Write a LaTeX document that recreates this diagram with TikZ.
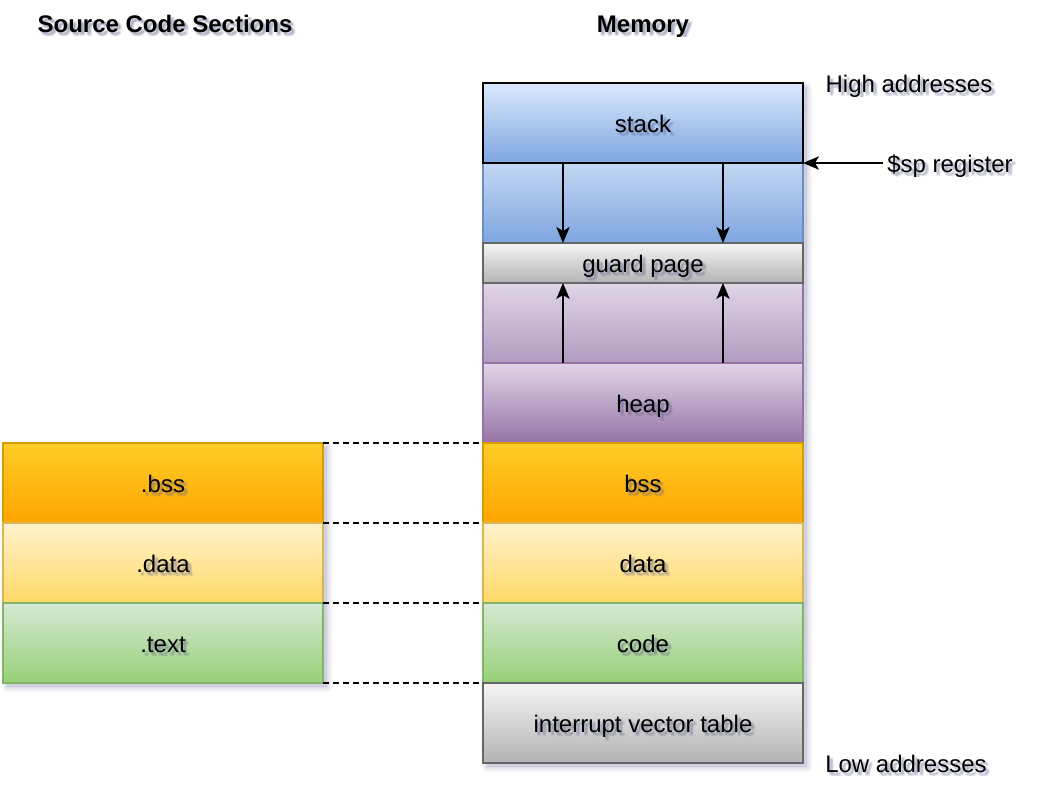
\documentclass[tikz,border=0pt]{standalone}
\usepackage{fontspec}
\setmainfont{Liberation Sans}
\usetikzlibrary{arrows.meta,backgrounds}

% fill and stroke colours of the memory regions
\definecolor{blueTop}{HTML}{DAE8FC}
\definecolor{blueMidTop}{HTML}{C4D7F3}
\definecolor{blueBot}{HTML}{7EA6E0}
\definecolor{blueLine}{HTML}{6C8EBF}
\definecolor{grayTop}{HTML}{F5F5F5}
\definecolor{grayBot}{HTML}{B3B3B3}
\definecolor{grayLine}{HTML}{666666}
\definecolor{purpTop}{HTML}{E1D5E7}
\definecolor{purpMid}{HTML}{B09CC0}
\definecolor{purpBot}{HTML}{9673A6}
\definecolor{purpLine}{HTML}{9673A6}
\definecolor{orgTop}{HTML}{FFCD28}
\definecolor{orgBot}{HTML}{FFA500}
\definecolor{orgLine}{HTML}{D79B00}
\definecolor{yelTop}{HTML}{FFF2CC}
\definecolor{yelBot}{HTML}{FFD966}
\definecolor{yelLine}{HTML}{D6B656}
\definecolor{grnTop}{HTML}{D5E8D4}
\definecolor{grnBot}{HTML}{97D077}
\definecolor{grnLine}{HTML}{82B366}
\definecolor{shadowCol}{HTML}{5A5F8C}

\def\shadowtext{}

\begin{document}
\begin{tikzpicture}[x=0.75pt,y=-0.75pt,
  font=\fontsize{18}{21}\selectfont,
  every node/.style={text height=14pt, text depth=0pt},
  % blurred text shadow, painted inside the node before its own text
  txtshadow/.style={path picture={
      \foreach \dx/\dy in {1.5/-1.5,3/-1.5,1.5/-3,3/-3,2.25/-2.25}{
        \node[anchor=center, text=shadowCol, text opacity=0.13, inner sep=0pt,
              font=\fontsize{18}{21}\selectfont#1]
          at ([shift={(\dx pt,\dy pt)}]path picture bounding box.center)
          {\shadowtext};}}},
  cell/.style={draw, line width=1.1pt, inner sep=0pt, outer sep=0pt,
    minimum width=240pt, minimum height=60pt},
  thincell/.style={cell, minimum height=30pt},
  bluecell/.style={top color=blueTop, bottom color=blueBot, draw=blueLine},
  growblue/.style={top color=blueMidTop, bottom color=blueBot, draw=blueLine},
  graycell/.style={top color=grayTop, bottom color=grayBot, draw=grayLine},
  growpurp/.style={top color=purpTop, bottom color=purpMid, draw=purpLine},
  purpcell/.style={top color=purpTop, bottom color=purpBot, draw=purpLine},
  orgcell/.style={top color=orgTop, bottom color=orgBot, draw=orgLine},
  yelcell/.style={top color=yelTop, bottom color=yelBot, draw=yelLine},
  grncell/.style={top color=grnTop, bottom color=grnBot, draw=grnLine},
  arr/.style={line width=1.1pt, -{Stealth[length=12pt,width=10pt,inset=3pt]}},
  link/.style={line width=0.9pt, dashed, dash pattern=on 4.5pt off 3pt},
  heading/.style={font=\fontsize{18}{21}\selectfont\bfseries, inner sep=3pt,
    fill=white, txtshadow=\bfseries},
  note/.style={inner sep=3pt, fill=white, txtshadow=}]

\useasboundingbox (0,0) rectangle (1058,798);

% headings
\def\shadowtext{Source Code Sections}
\node[heading] (srcTitle) at (165,23) {Source Code Sections};
\def\shadowtext{Memory}
\node[heading] (memTitle) at (643,23) {Memory};

% memory column, top (high addresses) to bottom (low addresses)
\node[cell, growblue] (stackgrow) at (643,203) {};
\def\shadowtext{stack}
\node[cell, bluecell, draw=black, txtshadow=] (stack) at (643,123) {stack};
\node[cell, growpurp] (heapgrow) at (643,323) {};
\def\shadowtext{guard page}
\node[thincell, graycell, txtshadow=] (guard) at (643,263) {guard page};
\def\shadowtext{heap}
\node[cell, purpcell, txtshadow=] (heap) at (643,403) {heap};
\def\shadowtext{bss}
\node[cell, orgcell, txtshadow=] (bss) at (643,483) {bss};
\def\shadowtext{data}
\node[cell, yelcell, txtshadow=] (data) at (643,563) {data};
\def\shadowtext{code}
\node[cell, grncell, txtshadow=] (code) at (643,643) {code};
\def\shadowtext{interrupt vector table}
\node[cell, graycell, txtshadow=] (ivt) at (643,723) {interrupt vector table};

% source sections
\def\shadowtext{.bss}
\node[cell, orgcell, txtshadow=] (lbss) at (163,483) {.bss};
\def\shadowtext{.data}
\node[cell, yelcell, txtshadow=] (ldata) at (163,563) {.data};
\def\shadowtext{.text}
\node[cell, grncell, txtshadow=] (ltext) at (163,643) {.text};

% soft drop shadows behind both columns
\begin{scope}[on background layer]
  \foreach \s/\o in {0/0.10,1/0.08,2/0.06,3/0.05,4/0.04}{
    \fill[shadowCol, opacity=\o, rounded corners=\s pt]
      ([shift={(3pt-\s pt,-3pt+\s pt)}]stack.north west) rectangle
      ([shift={(3pt+\s pt,-3pt-\s pt)}]ivt.south east);
    \fill[shadowCol, opacity=\o, rounded corners=\s pt]
      ([shift={(3pt-\s pt,-3pt+\s pt)}]lbss.north west) rectangle
      ([shift={(3pt+\s pt,-3pt-\s pt)}]ltext.south east);
  }
\end{scope}

% growth arrows: stack grows down, heap grows up
\draw[arr] ([xshift=-60pt]stack.south) -- ([xshift=-60pt]guard.north);
\draw[arr] ([xshift=60pt]stack.south) -- ([xshift=60pt]guard.north);
\draw[arr] ([xshift=-60pt]heap.north) -- ([xshift=-60pt]guard.south);
\draw[arr] ([xshift=60pt]heap.north) -- ([xshift=60pt]guard.south);

% section-to-segment links
\draw[link] (lbss.north east) -- (bss.north west);
\draw[link] (lbss.south east) -- (bss.south west);
\draw[link] (ldata.south east) -- (data.south west);
\draw[link] (ltext.south east) -- (code.south west);

% address labels and stack pointer
\def\shadowtext{High addresses}
\node[note] (high) at (909,83) {High addresses};
\def\shadowtext{Low addresses}
\node[note] (low) at (906,763) {Low addresses};
\def\shadowtext{\$sp register}
\node[note, anchor=west] (sp) at (883,163) {\$sp register};
\draw[arr] (sp.west) -- (stack.south east);
\end{tikzpicture}
\end{document}
